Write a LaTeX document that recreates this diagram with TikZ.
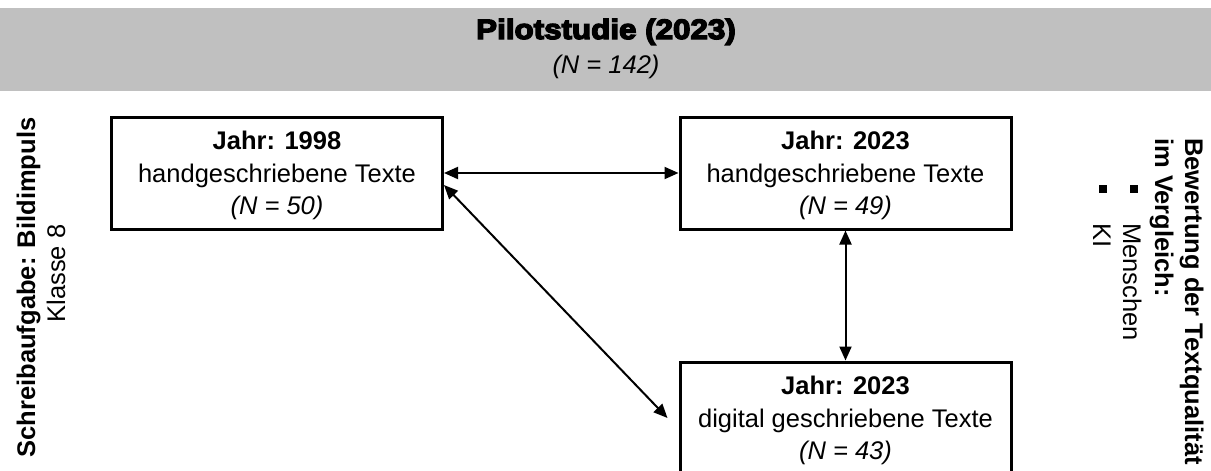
\documentclass[tikz,border=0pt]{standalone}
\usepackage{fontspec}
\setmainfont{Liberation Sans}
\newfontfamily\headfont{Liberation Sans Bold}[FakeStretch=1.12,FakeBold=5]
\usetikzlibrary{arrows.meta}
\definecolor{bandgray}{RGB}{192,192,192}
\tikzset{
  every node/.style={inner sep=0pt, font=\fontsize{25.5}{32.5}\selectfont},
  stagebox/.style={draw, line width=3pt, minimum width=331pt, minimum height=112pt,
    align=center, text depth=0pt},
  link/.style={line width=2pt, {Triangle[length=14pt,width=12pt]}-{Triangle[length=14pt,width=12pt]}},
  sidetext/.style={anchor=base west, rotate=-90},
  sq/.style={fill=black, minimum size=7.5pt}
}
\begin{document}
\begin{tikzpicture}[x=1pt, y=-1pt]
  \useasboundingbox (0,0) rectangle (1211,471);
  \clip (0,0) rectangle (1211,471);

  % header band
  \fill[bandgray] (0,8) rectangle (1211,91);
  \node[anchor=base] (title) at (606,39) {\headfont\fontsize{28}{30}\selectfont Pilotstudie (2023)};
  \node[anchor=base] (total) at (606,73) {\itshape (N = 142)};

  % sample groups
  \node[stagebox] (b1) at (277,173) {\textbf{Jahr: 1998}\\handgeschriebene Texte\\\itshape (N = 50)};
  \node[stagebox] (b2) at (845.5,173) {\textbf{Jahr: 2023}\\handgeschriebene Texte\\\itshape (N = 49)};
  \node[stagebox] (b3) at (845.5,418) {\textbf{Jahr: 2023}\\digital geschriebene Texte\\\itshape (N = 43)};

  % comparisons
  \draw[link] (b1.east) -- (b2.west);
  \draw[link] (b2.south) -- (b3.north);
  \draw[link] ([yshift=-12pt]b1.east) -- ([xshift=-11pt]b3.west);

  % writing task (left margin)
  \node[anchor=base, rotate=90] (task) at (35,287.5) {\bfseries Schreibaufgabe: Bildimpuls};
  \node[anchor=base, rotate=90] (grade) at (65,273.5) {Klasse 8};

  % rating (right margin)
  \node[sidetext] (rate1) at (1185,138) {\bfseries Bewertung der Textqualität};
  \node[sidetext] (rate2) at (1155,138) {\bfseries im Vergleich:};
  \node[sq] (bul1) at (1134,189) {};
  \node[sidetext] (human) at (1123,223) {Menschen};
  \node[sq] (bul2) at (1103,189) {};
  \node[sidetext] (ai) at (1093,223) {KI};
\end{tikzpicture}
\end{document}
